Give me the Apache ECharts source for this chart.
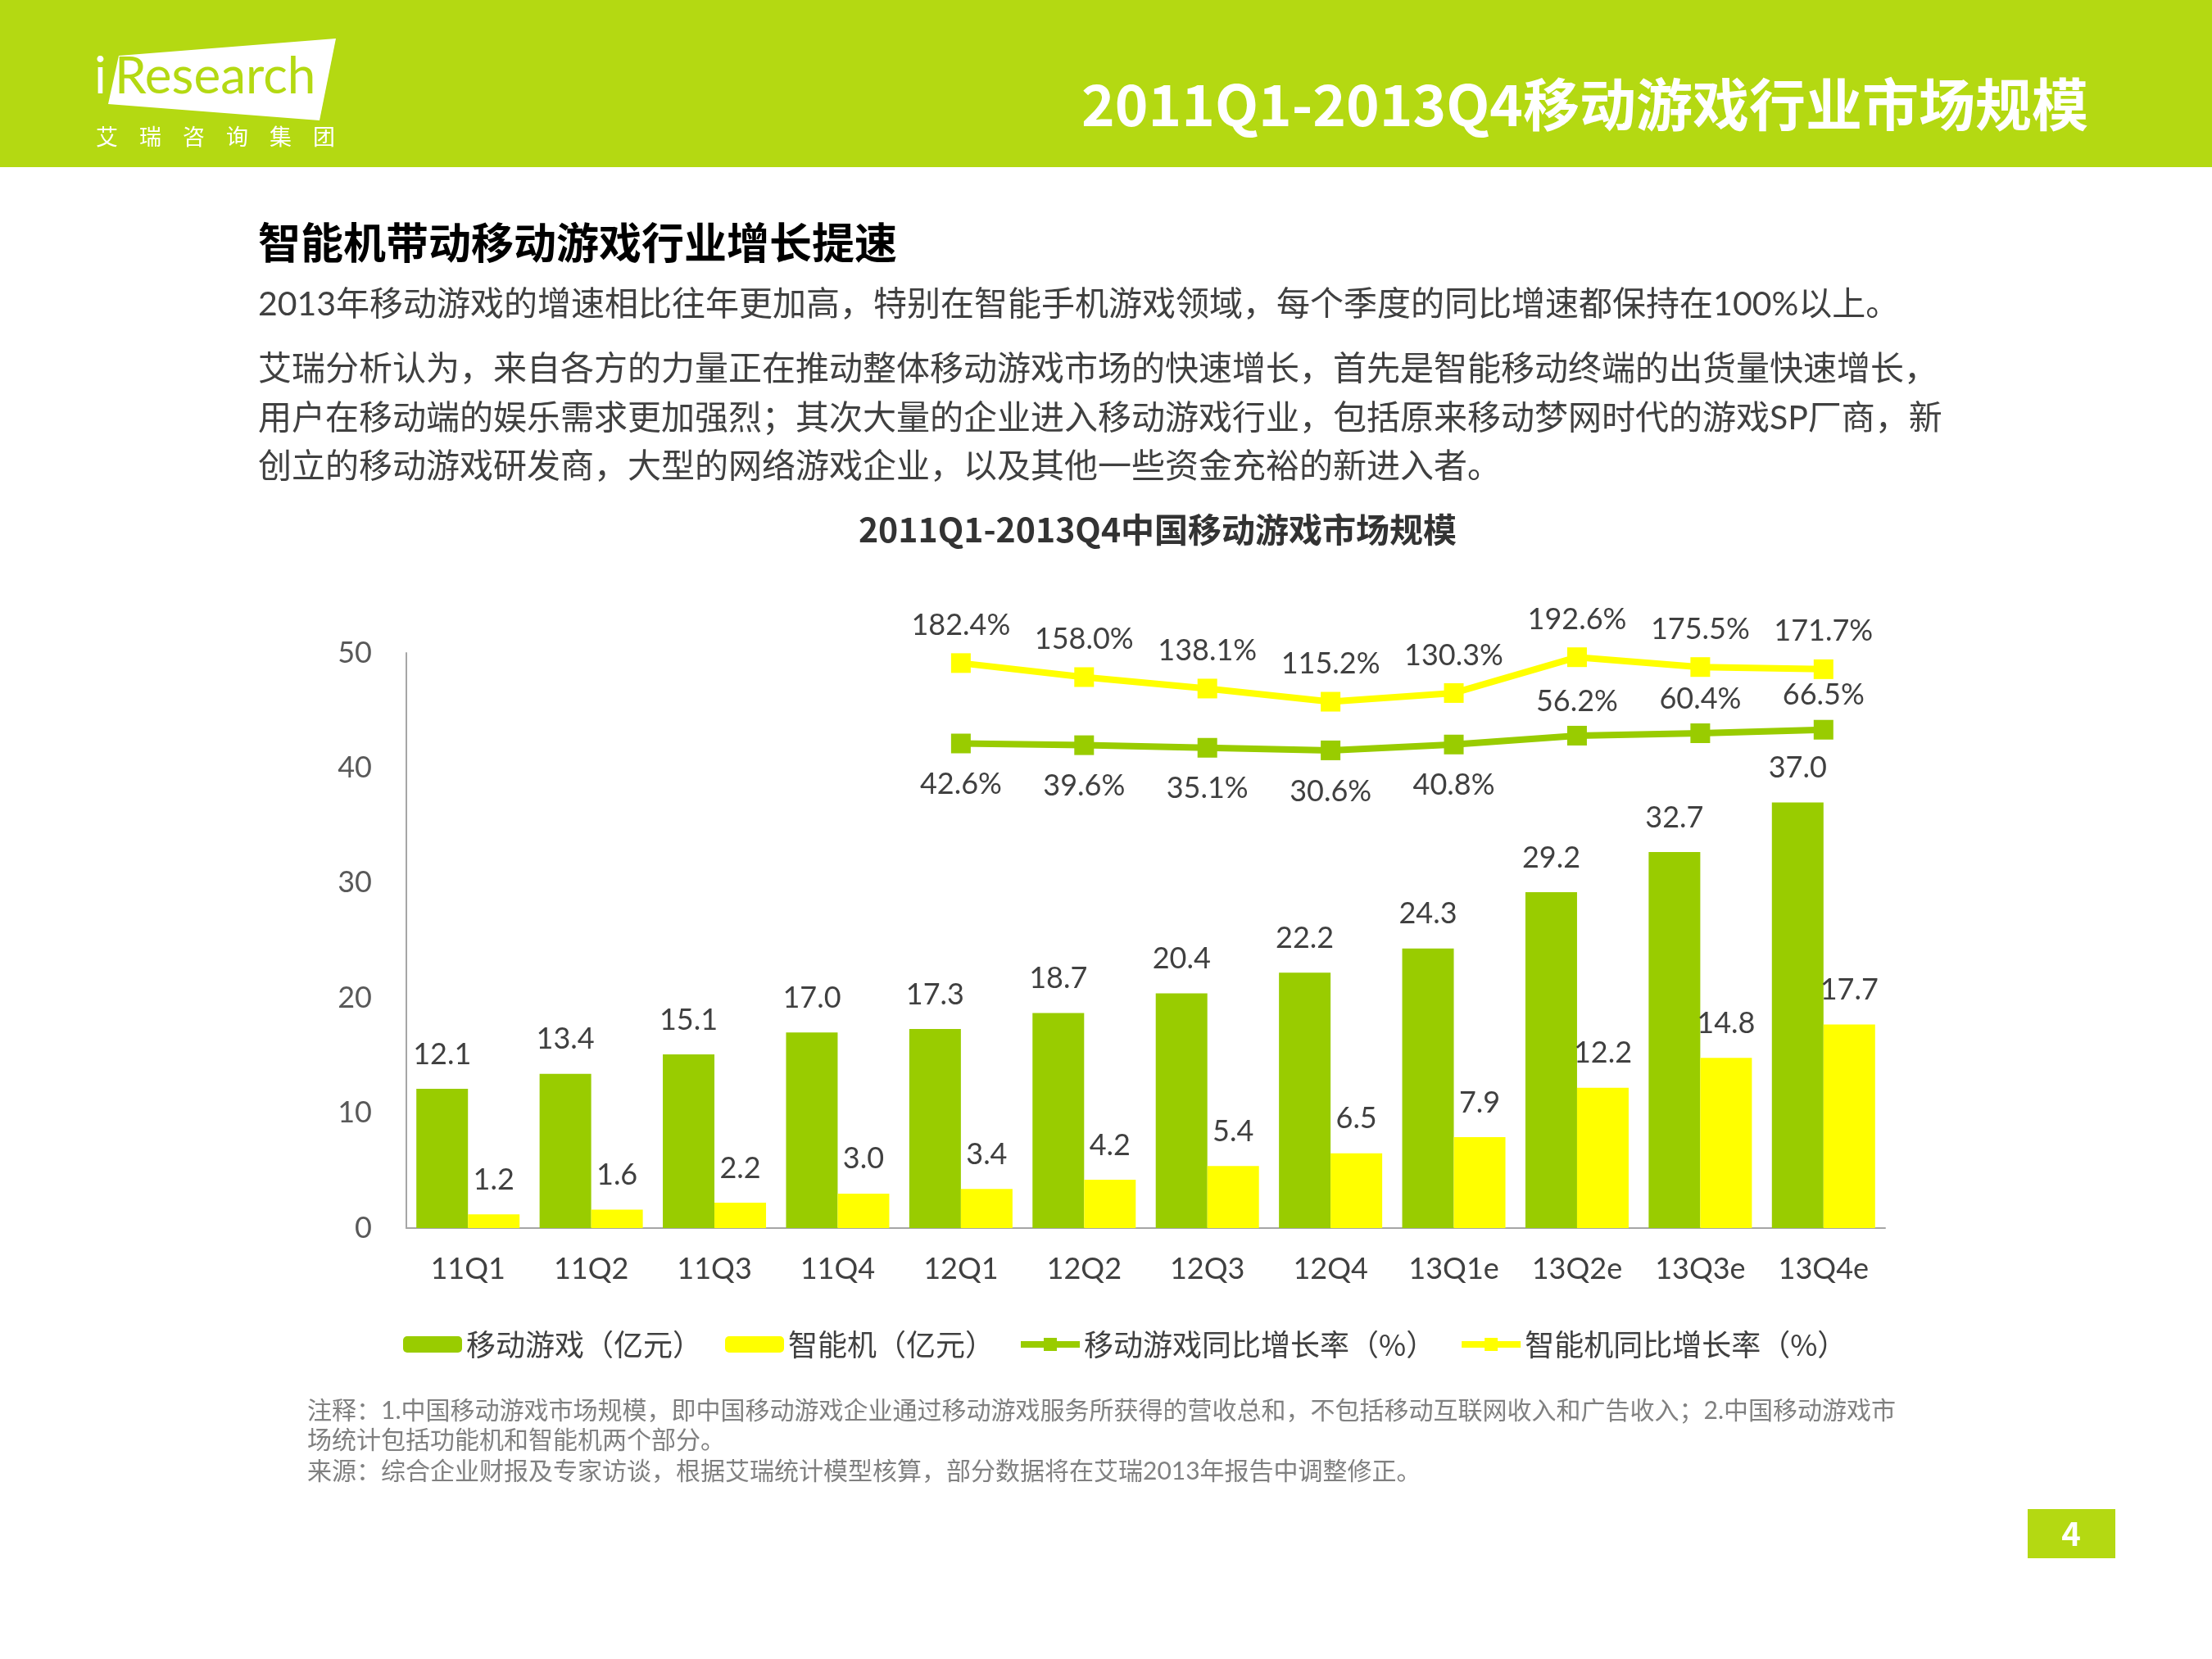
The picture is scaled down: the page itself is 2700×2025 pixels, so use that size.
<!DOCTYPE html>
<html>
<head>
<meta charset="utf-8">
<script src="https://cdn.jsdelivr.net/npm/echarts@6/dist/echarts.min.js"></script>
<style>
html, body { margin: 0; padding: 0; background: #fff; }
#main { width: 2700px; height: 2025px; }
</style>
</head>
<body>
<div id="main"></div>
<script>
var categories = ['11Q1', '11Q2', '11Q3', '11Q4', '12Q1', '12Q2', '12Q3', '12Q4', '13Q1e', '13Q2e', '13Q3e', '13Q4e'];
var mobileGame = [12.1, 13.4, 15.1, 17.0, 17.3, 18.7, 20.4, 22.2, 24.3, 29.2, 32.7, 37.0];
var smartPhone = [1.2, 1.6, 2.2, 3.0, 3.4, 4.2, 5.4, 6.5, 7.9, 12.2, 14.8, 17.7];
var mobileGameYoY = [null, null, null, null, 42.6, 39.6, 35.1, 30.6, 40.8, 56.2, 60.4, 66.5];
var smartPhoneYoY = [null, null, null, null, 182.4, 158.0, 138.1, 115.2, 130.3, 192.6, 175.5, 171.7];
var yTicks = [0, 10, 20, 30, 40, 50];

var seriesNames = ['移动游戏（亿元）', '智能机（亿元）', '移动游戏同比增长率（%）', '智能机同比增长率（%）'];
var pageTitle = '2011Q1-2013Q4移动游戏行业市场规模';
var chartTitle = '2011Q1-2013Q4中国移动游戏市场规模';
var headline = '智能机带动移动游戏行业增长提速';
var bodyLines = [
  '2013年移动游戏的增速相比往年更加高，特别在智能手机游戏领域，每个季度的同比增速都保持在100%以上。',
  '艾瑞分析认为，来自各方的力量正在推动整体移动游戏市场的快速增长，首先是智能移动终端的出货量快速增长，',
  '用户在移动端的娱乐需求更加强烈；其次大量的企业进入移动游戏行业，包括原来移动梦网时代的游戏SP厂商，新',
  '创立的移动游戏研发商，大型的网络游戏企业，以及其他一些资金充裕的新进入者。'
];
var noteLines = [
  '注释：1.中国移动游戏市场规模，即中国移动游戏企业通过移动游戏服务所获得的营收总和，不包括移动互联网收入和广告收入；2.中国移动游戏市',
  '场统计包括功能机和智能机两个部分。',
  '来源：综合企业财报及专家访谈，根据艾瑞统计模型核算，部分数据将在艾瑞2013年报告中调整修正。'
];
var logoSub = '艾瑞咨询集团';

var GREEN = '#99cc00';
var YELLOW = '#ffff00';
var BAND = '#b4d912';
var FONT = "Lato, 'Noto Sans CJK SC', sans-serif";
var CJK = "'Noto Sans CJK SC', sans-serif";

var myChart = echarts.init(document.getElementById('main'));

var graphics = [
  { type: 'rect', shape: { x: 0, y: 0, width: 2700, height: 204 }, style: { fill: BAND }, silent: true },
  { type: 'polygon', shape: { points: [[145, 68], [410, 47], [390, 147], [132, 127]] }, style: { fill: '#fff' } },
  { type: 'text', style: { text: 'i', x: 115, y: 125, fill: '#fff', font: '62px Lato', textVerticalAlign: 'bottom' } },
  { type: 'text', style: { text: 'Research', x: 140, y: 125, fill: BAND, font: '62px Lato', textVerticalAlign: 'bottom' } },
  { type: 'text', style: { text: pageTitle, x: 2549, y: 128, fill: '#fff', font: 'bold 69px ' + CJK, textAlign: 'right', textVerticalAlign: 'middle' } },
  { type: 'text', style: { text: headline, x: 315, y: 296, fill: '#000', font: 'bold 52px ' + CJK, textVerticalAlign: 'middle' } },
  { type: 'rect', shape: { x: 2475, y: 1842, width: 107, height: 60 }, style: { fill: BAND } },
  { type: 'text', style: { text: '4', x: 2528, y: 1872, fill: '#fff', font: 'bold 40px ' + CJK, textAlign: 'center', textVerticalAlign: 'middle' } }
];
for (var i = 0; i < logoSub.length; i++) {
  graphics.push({ type: 'text', style: { text: logoSub[i], x: 117 + i * 53, y: 167, fill: '#fff', font: '27px ' + CJK, textVerticalAlign: 'middle' } });
}
var bodyY = [372, 451, 511, 570];
bodyLines.forEach(function (t, k) {
  graphics.push({ type: 'text', style: { text: t, x: 315, y: bodyY[k], fill: '#404040', font: '41px ' + FONT, textVerticalAlign: 'middle' } });
});
var noteY = [1722, 1758, 1796];
noteLines.forEach(function (t, k) {
  graphics.push({ type: 'text', style: { text: t, x: 375, y: noteY[k], fill: '#808080', font: '30px ' + FONT, textVerticalAlign: 'middle' } });
});

// green YoY labels sit below the line until 13Q1e, above after that
var greenLineData = mobileGameYoY.map(function (v, idx) {
  if (v === null) return v;
  return idx >= 9 ? { value: v, label: { position: 'top', distance: 12 } } : v;
});

var labelText = { fontFamily: FONT, fontSize: 36, color: '#404040' };

option = {
  textStyle: { fontFamily: FONT },
  title: {
    text: chartTitle,
    left: 1408,
    top: 621,
    textAlign: 'center',
    textStyle: { fontFamily: CJK, fontSize: 41, fontWeight: 'bold', color: '#333' }
  },
  legend: {
    data: [
      { name: seriesNames[0] },
      { name: seriesNames[1] },
      { name: seriesNames[2], lineStyle: { width: 8 } },
      { name: seriesNames[3], lineStyle: { width: 8 } }
    ],
    left: 487,
    top: 1618,
    itemWidth: 72,
    itemHeight: 20,
    itemGap: 28,
    textStyle: { fontFamily: CJK, fontSize: 36, color: '#404040' }
  },
  grid: { left: 496, right: 399, top: 797, bottom: 526 },
  xAxis: {
    type: 'category',
    data: categories,
    axisLine: { lineStyle: { color: '#a6a6a6', width: 2 } },
    axisTick: { show: false },
    axisLabel: { fontFamily: FONT, fontSize: 36, color: '#404040', margin: 32 }
  },
  yAxis: [{
    type: 'value',
    min: yTicks[0],
    max: yTicks[yTicks.length - 1],
    interval: 10,
    axisLine: { show: true, lineStyle: { color: '#a6a6a6', width: 2 } },
    axisTick: { show: false },
    splitLine: { show: false },
    axisLabel: { fontFamily: FONT, fontSize: 36, color: '#595959', margin: 42 }
  }, {
    type: 'value',
    min: -800,
    max: 200,
    show: false,
    splitLine: { show: false }
  }],
  series: [
    {
      name: seriesNames[0],
      type: 'bar',
      data: mobileGame,
      barWidth: 63,
      barGap: '0%',
      itemStyle: { color: GREEN },
      label: Object.assign({ show: true, position: 'top', distance: 24, formatter: function (p) { return p.value.toFixed(1); } }, labelText)
    },
    {
      name: seriesNames[1],
      type: 'bar',
      data: smartPhone,
      barWidth: 63,
      barGap: '0%',
      itemStyle: { color: YELLOW },
      label: Object.assign({ show: true, position: 'top', distance: 24, formatter: function (p) { return p.value.toFixed(1); } }, labelText)
    },
    {
      name: seriesNames[2],
      type: 'line',
      yAxisIndex: 1,
      data: greenLineData,
      symbol: 'rect',
      symbolSize: 24,
      lineStyle: { color: GREEN, width: 8 },
      itemStyle: { color: GREEN },
      label: Object.assign({ show: true, position: 'bottom', distance: 20, formatter: function (p) { return p.value.toFixed(1) + '%'; } }, labelText)
    },
    {
      name: seriesNames[3],
      type: 'line',
      yAxisIndex: 1,
      data: smartPhoneYoY,
      symbol: 'rect',
      symbolSize: 24,
      lineStyle: { color: YELLOW, width: 8 },
      itemStyle: { color: YELLOW },
      label: Object.assign({ show: true, position: 'top', distance: 16, formatter: function (p) { return p.value.toFixed(1) + '%'; } }, labelText)
    }
  ],
  graphic: graphics,
  animation: false
};

myChart.setOption(option);
</script>
</body>
</html>
